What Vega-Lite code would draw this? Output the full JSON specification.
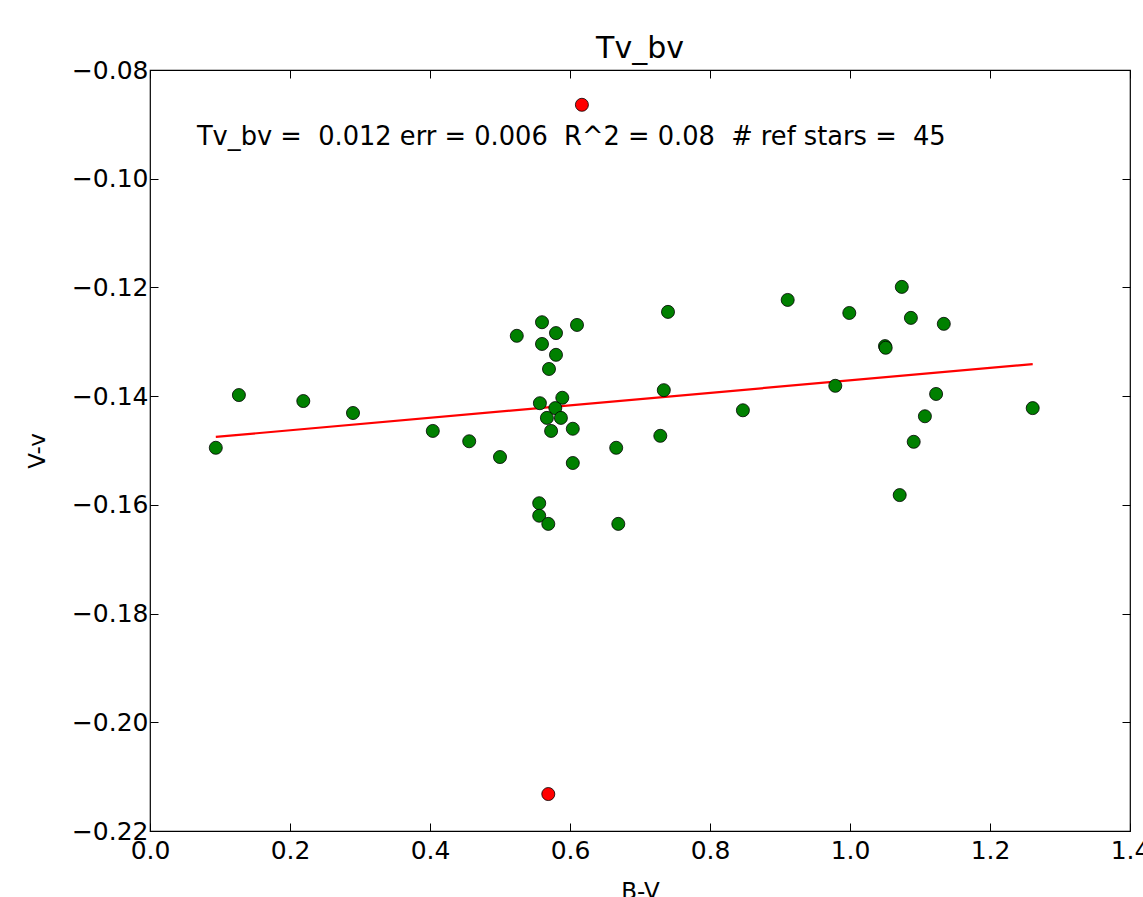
{
  "$schema": "https://vega.github.io/schema/vega-lite/v6.json",
  "autosize": "none",
  "width": 980,
  "height": 761,
  "padding": {"left": 150, "top": 70, "right": 13, "bottom": 66},
  "background": "white",
  "config": {
    "font": "DejaVu Sans",
    "view": {"stroke": "black", "strokeWidth": 1.2},
    "axis": {"grid": false, "domain": false, "tickColor": "black", "labelColor": "black", "titleColor": "black", "labelFont": "DejaVu Sans", "titleFont": "DejaVu Sans", "labelFontSize": 25, "titleFontSize": 23, "titleFontWeight": "normal", "tickSize": -8, "tickWidth": 1, "labelFlush": false}
  },
  "title": {"text": "Tv_bv", "fontSize": 30, "fontWeight": "normal", "font": "DejaVu Sans", "color": "black", "offset": -6},
  "datasets": {
    "stars": [
      {"bv": 0.094, "dv": -0.1495, "kind": "used"},
      {"bv": 0.127, "dv": -0.1398, "kind": "used"},
      {"bv": 0.219, "dv": -0.1409, "kind": "used"},
      {"bv": 0.290, "dv": -0.1431, "kind": "used"},
      {"bv": 0.404, "dv": -0.1464, "kind": "used"},
      {"bv": 0.456, "dv": -0.1483, "kind": "used"},
      {"bv": 0.500, "dv": -0.1512, "kind": "used"},
      {"bv": 0.524, "dv": -0.1289, "kind": "used"},
      {"bv": 0.560, "dv": -0.1264, "kind": "used"},
      {"bv": 0.560, "dv": -0.1304, "kind": "used"},
      {"bv": 0.580, "dv": -0.1284, "kind": "used"},
      {"bv": 0.580, "dv": -0.1324, "kind": "used"},
      {"bv": 0.570, "dv": -0.1350, "kind": "used"},
      {"bv": 0.610, "dv": -0.1269, "kind": "used"},
      {"bv": 0.557, "dv": -0.1413, "kind": "used"},
      {"bv": 0.589, "dv": -0.1403, "kind": "used"},
      {"bv": 0.579, "dv": -0.1422, "kind": "used"},
      {"bv": 0.567, "dv": -0.1440, "kind": "used"},
      {"bv": 0.587, "dv": -0.1440, "kind": "used"},
      {"bv": 0.573, "dv": -0.1464, "kind": "used"},
      {"bv": 0.604, "dv": -0.1460, "kind": "used"},
      {"bv": 0.604, "dv": -0.1523, "kind": "used"},
      {"bv": 0.666, "dv": -0.1495, "kind": "used"},
      {"bv": 0.729, "dv": -0.1473, "kind": "used"},
      {"bv": 0.734, "dv": -0.1389, "kind": "used"},
      {"bv": 0.740, "dv": -0.1245, "kind": "used"},
      {"bv": 0.556, "dv": -0.1597, "kind": "used"},
      {"bv": 0.556, "dv": -0.1620, "kind": "used"},
      {"bv": 0.569, "dv": -0.1635, "kind": "used"},
      {"bv": 0.669, "dv": -0.1635, "kind": "used"},
      {"bv": 0.847, "dv": -0.1426, "kind": "used"},
      {"bv": 0.911, "dv": -0.1223, "kind": "used"},
      {"bv": 0.979, "dv": -0.1381, "kind": "used"},
      {"bv": 0.999, "dv": -0.1247, "kind": "used"},
      {"bv": 1.050, "dv": -0.1308, "kind": "used"},
      {"bv": 1.051, "dv": -0.1311, "kind": "used"},
      {"bv": 1.074, "dv": -0.1199, "kind": "used"},
      {"bv": 1.087, "dv": -0.1256, "kind": "used"},
      {"bv": 1.134, "dv": -0.1267, "kind": "used"},
      {"bv": 1.123, "dv": -0.1396, "kind": "used"},
      {"bv": 1.107, "dv": -0.1437, "kind": "used"},
      {"bv": 1.091, "dv": -0.1484, "kind": "used"},
      {"bv": 1.071, "dv": -0.1582, "kind": "used"},
      {"bv": 1.261, "dv": -0.1422, "kind": "used"},
      {"bv": 0.617, "dv": -0.0864, "kind": "rejected"},
      {"bv": 0.569, "dv": -0.2132, "kind": "rejected"}
    ],
    "fit": [
      {"bv": 0.094, "dv": -0.1475},
      {"bv": 1.261, "dv": -0.1341}
    ],
    "note": [
      {"label": "Tv_bv =\u00a0 0.012 err = 0.006\u00a0 R^2 = 0.08\u00a0 # ref stars =\u00a0 45"}
    ]
  },
  "resolve": {"axis": {"x": "independent", "y": "independent"}},
  "layer": [
    {
      "data": {"name": "fit"},
      "mark": {"type": "line", "color": "#ff0000", "strokeWidth": 2.2},
      "encoding": {
        "x": {"field": "bv", "type": "quantitative", "scale": {"domain": [0, 1.4], "nice": false, "zero": false},
              "axis": {"orient": "top", "labels": false, "title": null, "values": [0, 0.2, 0.4, 0.6, 0.8, 1.0, 1.2, 1.4]}},
        "y": {"field": "dv", "type": "quantitative", "scale": {"domain": [-0.22, -0.08], "nice": false, "zero": false},
              "axis": {"orient": "right", "labels": false, "title": null, "values": [-0.22, -0.2, -0.18, -0.16, -0.14, -0.12, -0.1, -0.08]}}
      }
    },
    {
      "data": {"name": "stars"},
      "mark": {"type": "point", "filled": true, "shape": "circle", "size": 170, "stroke": "black", "strokeWidth": 0.8, "opacity": 1},
      "encoding": {
        "x": {"field": "bv", "type": "quantitative", "scale": {"domain": [0, 1.4], "nice": false, "zero": false},
              "axis": {"orient": "bottom", "title": "B-V", "values": [0, 0.2, 0.4, 0.6, 0.8, 1.0, 1.2, 1.4], "format": ".1f", "labelPadding": 15, "titlePadding": 17}},
        "y": {"field": "dv", "type": "quantitative", "scale": {"domain": [-0.22, -0.08], "nice": false, "zero": false},
              "axis": {"orient": "left", "title": "V-v", "values": [-0.22, -0.2, -0.18, -0.16, -0.14, -0.12, -0.1, -0.08], "labelExpr": "replace(format(datum.value, '.2f'), '-', '\u2212')", "labelPadding": 10, "titlePadding": 22}},
        "fill": {"field": "kind", "type": "nominal", "scale": {"domain": ["used", "rejected"], "range": ["#008000", "#ff0000"]}, "legend": null}
      }
    },
    {
      "data": {"name": "note"},
      "mark": {"type": "text", "align": "left", "baseline": "middle", "fontSize": 25.7, "font": "DejaVu Sans", "color": "black"},
      "encoding": {
        "x": {"datum": 0.067, "type": "quantitative", "axis": null},
        "y": {"datum": -0.0923, "type": "quantitative", "axis": null},
        "text": {"field": "label", "type": "nominal"}
      }
    }
  ]
}
